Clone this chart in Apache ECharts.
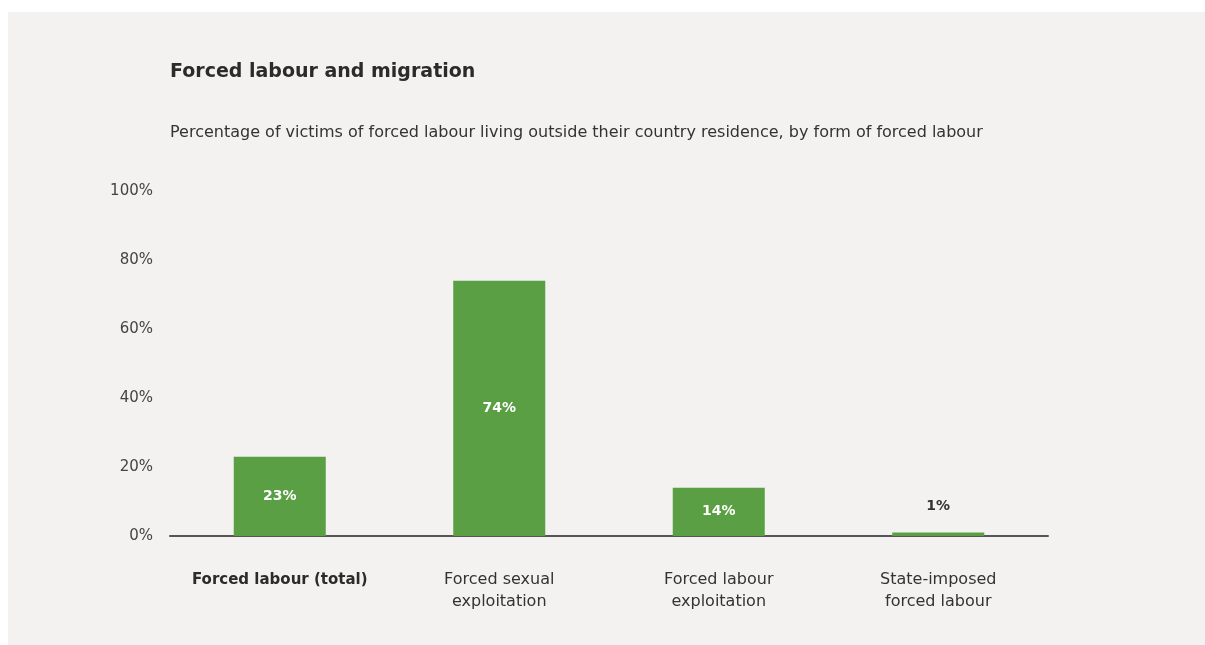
<!DOCTYPE html>
<html>
<head>
<meta charset="utf-8">
<script src="https://cdn.jsdelivr.net/npm/echarts@6/dist/echarts.min.js"></script>
<style>
  html, body { margin: 0; padding: 0; background: #ffffff; }
  #chart { width: 1205px; height: 645px; }
</style>
</head>
<body>
<div id="chart"></div>
<script>
// Forms of forced labour shown on the x axis
const categories = [
  'Forced labour (total)',
  'Forced sexual\nexploitation',
  'Forced labour\nexploitation',
  'State-imposed\nforced labour'
];
// Share of victims living outside their country of residence (%)
const shareOutside = [23, 74, 14, 1];
// Y axis tick values (%)
const yTicks = [0, 20, 40, 60, 80, 100];

const FONT = '"DejaVu Sans", Verdana, sans-serif';
const GREEN = '#5a9f43';

const chart = echarts.init(document.getElementById('chart'), null, { renderer: 'canvas' });

const barData = shareOutside.map(function (v) {
  const small = v < 5;
  return {
    value: v,
    label: small
      ? { position: 'top', distance: 19, color: '#333333' }
      : { position: 'inside', color: '#ffffff' }
  };
});

chart.setOption({
  backgroundColor: '#ffffff',
  animation: false,
  graphic: [{
    type: 'rect',
    z: -10,
    shape: { x: 8, y: 12, width: 1197, height: 633 },
    style: { fill: '#f3f2f0' }
  }],
  title: [
    {
      text: 'Forced labour and migration',
      left: 165, top: 58,
      textStyle: { fontFamily: FONT, fontSize: 19, fontWeight: 'bold', color: '#2b2b2b' }
    },
    {
      text: 'Percentage of victims of forced labour living outside their country residence, by form of forced labour',
      left: 165, top: 120,
      textStyle: { fontFamily: FONT, fontSize: 16, fontWeight: 'normal', color: '#333333' }
    }
  ],
  grid: { left: 170, right: 157, top: 191, bottom: 109, containLabel: false },
  xAxis: {
    type: 'category',
    data: categories,
    axisLine: { show: true, lineStyle: { color: '#555555', width: 2 } },
    axisTick: { show: false },
    axisLabel: {
      interval: 0,
      margin: 33,
      fontFamily: FONT,
      fontSize: 16,
      lineHeight: 22,
      color: '#333333',
      formatter: function (v, i) {
        return i === 0 ? '{b|' + v + '}' : v;
      },
      rich: {
        b: { fontFamily: FONT, fontSize: 15, fontWeight: 'bold', color: '#2b2b2b', lineHeight: 22 }
      }
    }
  },
  yAxis: {
    type: 'value',
    min: yTicks[0],
    max: yTicks[yTicks.length - 1],
    interval: 20,
    axisLine: { show: false },
    axisTick: { show: false },
    splitLine: { show: false },
    axisLabel: {
      margin: 17,
      fontFamily: FONT,
      fontSize: 15,
      color: '#444444',
      formatter: '{value}%'
    }
  },
  series: [{
    type: 'bar',
    data: barData,
    barWidth: 92,
    itemStyle: { color: GREEN },
    label: {
      show: true,
      fontFamily: FONT,
      fontSize: 14,
      fontWeight: 'bold',
      formatter: '{c}%'
    }
  }]
});
</script>
</body>
</html>
